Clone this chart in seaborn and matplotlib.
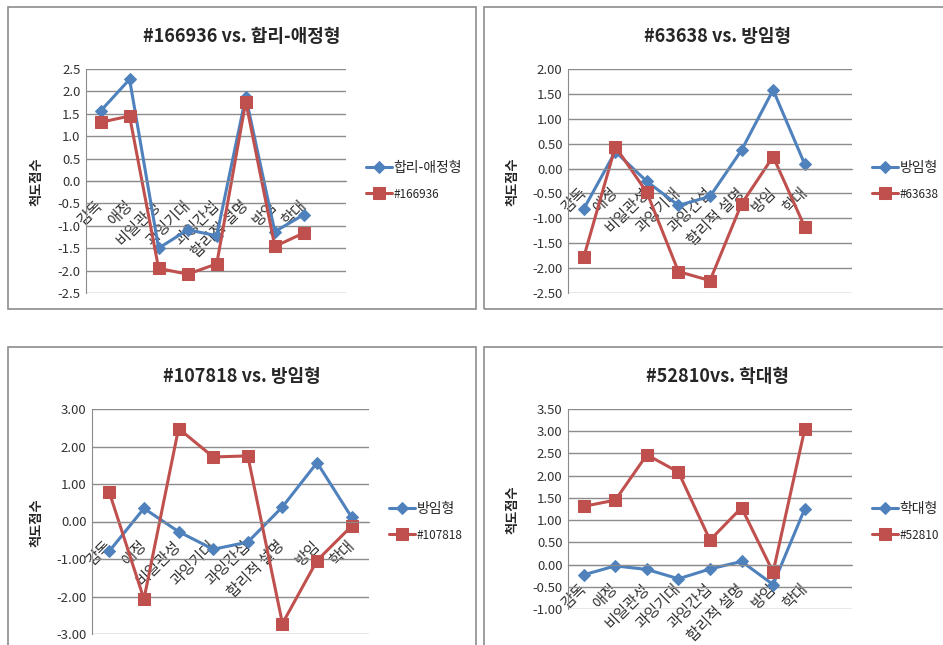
import numpy as np
import pandas as pd
import matplotlib
matplotlib.use("Agg")
import matplotlib.pyplot as plt
from matplotlib.patches import Rectangle
from matplotlib.ticker import FormatStrFormatter
import seaborn as sns

# ── data ──────────────────────────────────────
SCALES = ["감독", "애정", "비일관성", "과잉기대", "과잉간섭", "합리적 설명", "방임", "학대"]

# panel 1: #166936 vs. 합리-애정형
p1_type = [1.56, 2.27, -1.50, -1.09, -1.22, 1.88, -1.13, -0.75]
p1_case = [1.31, 1.45, -1.95, -2.08, -1.85, 1.77, -1.46, -1.16]
# panel 2: #63638 vs. 방임형
p2_type = [-0.81, 0.34, -0.26, -0.74, -0.56, 0.37, 1.58, 0.09]
p2_case = [-1.78, 0.44, -0.48, -2.07, -2.25, -0.71, 0.24, -1.17]
# panel 3: #107818 vs. 방임형
p3_type = [-0.79, 0.35, -0.27, -0.74, -0.55, 0.39, 1.57, 0.11]
p3_case = [0.78, -2.07, 2.48, 1.72, 1.75, -2.72, -1.04, -0.12]
# panel 4: #52810 vs. 학대형
p4_type = [-0.23, -0.03, -0.11, -0.32, -0.10, 0.07, -0.45, 1.25]
p4_case = [1.31, 1.45, 2.47, 2.08, 0.55, 1.28, -0.17, 3.04]

TITLES = ["#166936 vs. 합리-애정형", "#63638 vs. 방임형", "#107818 vs. 방임형", "#52810vs. 학대형"]
TYPE_NAMES = ["합리-애정형", "방임형", "방임형", "학대형"]
CASE_NAMES = ["#166936", "#63638", "#107818", "#52810"]
Y_RANGES = [(-2.5, 2.5, 0.5), (-2.5, 2.0, 0.5), (-3.0, 3.0, 1.0), (-1.0, 3.5, 0.5)]
Y_FMT = ["%.1f", "%.2f", "%.2f", "%.2f"]

BLUE = "#4F81BD"
RED = "#C0504D"
GRID = "#8C8C8C"

sns.set_style("white")
plt.rcParams["font.family"] = ["Noto Sans CJK KR", "DejaVu Sans"]

W, H = 943, 645
fig = plt.figure(figsize=(W / 100, H / 100), dpi=100)


def fx(px):
    return px / W


def fy(py):
    return 1 - py / H


# panel boxes (pixel coords: left, top, right, bottom)
boxes = [(8, 7, 476, 309), (484, 7, 950, 309), (8, 347, 476, 652), (484, 347, 950, 652)]
axes_px = [(86, 69, 346, 293), (568, 69, 852, 293), (92, 409, 369, 634), (568, 409, 852, 609)]
title_px = [(242, 37), (718, 37), (242, 377), (717, 377)]
ylabel_px = [(37, 182), (513, 182), (37, 523), (513, 510)]
legend_px = [(366, 181), (872, 181), (389, 522), (872, 522)]
# the gridlines run past the last category in some panels
x_right = [8.45, 8.5, 7.5, 8.5]

series = [(p1_type, p1_case), (p2_type, p2_case), (p3_type, p3_case), (p4_type, p4_case)]

for i in range(4):
    l, t, r, b = boxes[i]
    fig.patches.append(Rectangle((fx(l), fy(b)), fx(r - l), (b - t) / H,
                                 transform=fig.transFigure, fill=False,
                                 edgecolor="#8C8C8C", linewidth=1.2))

    l, t, r, b = axes_px[i]
    ax = fig.add_axes([fx(l), fy(b), fx(r - l), (b - t) / H])

    df = pd.DataFrame({
        "pos": np.arange(len(SCALES)),
        "type": series[i][0],
        "case": series[i][1],
    })
    sns.lineplot(data=df, x="pos", y="type", ax=ax, color=BLUE, linewidth=2.2,
                 marker="D", markersize=6, markeredgecolor=BLUE, label=TYPE_NAMES[i])
    sns.lineplot(data=df, x="pos", y="case", ax=ax, color=RED, linewidth=2.2,
                 marker="s", markersize=8, markeredgecolor=RED, label=CASE_NAMES[i])

    # category axis crosses at zero (like the Excel original)
    for s in ["top", "right"]:
        ax.spines[s].set_visible(False)
    ax.spines["left"].set_color(GRID)
    ax.spines["bottom"].set_position(("data", 0))
    ax.spines["bottom"].set_color(GRID)

    lo, hi, step = Y_RANGES[i]
    ax.set_ylim(lo, hi)
    ax.set_yticks(np.arange(lo, hi + step / 2, step))
    ax.yaxis.set_major_formatter(FormatStrFormatter(Y_FMT[i]))
    ax.set_xlim(-0.5, x_right[i])
    ax.set_xticks(np.arange(len(SCALES)))
    ax.tick_params(axis="x", length=0, pad=16)
    ax.tick_params(axis="y", length=0, labelsize=9.5, labelcolor="#333333", pad=4)
    ax.set_xticklabels(SCALES, rotation=45, ha="right", va="center",
                       rotation_mode="anchor", fontsize=11, color="#333333")
    ax.yaxis.grid(True, color=GRID, linewidth=1)
    ax.set_axisbelow(True)
    ax.set_xlabel("")
    ax.set_ylabel("")

    leg = ax.legend(loc="center left", bbox_to_anchor=(fx(legend_px[i][0]), fy(legend_px[i][1])),
                    bbox_transform=fig.transFigure, frameon=False, fontsize=10,
                    handlelength=1.9, handletextpad=0.1, labelspacing=0.9,
                    borderaxespad=0, borderpad=0)
    leg.get_texts()[1].set_fontsize(8.5)

    fig.text(fx(title_px[i][0]), fy(title_px[i][1]), TITLES[i], ha="center", va="center",
             fontsize=13, fontweight="bold")
    fig.text(fx(ylabel_px[i][0]), fy(ylabel_px[i][1]), "척도점수", ha="center", va="center",
             rotation=90, fontsize=9.5, fontweight="bold")

fig.savefig("out.png", dpi=100)
